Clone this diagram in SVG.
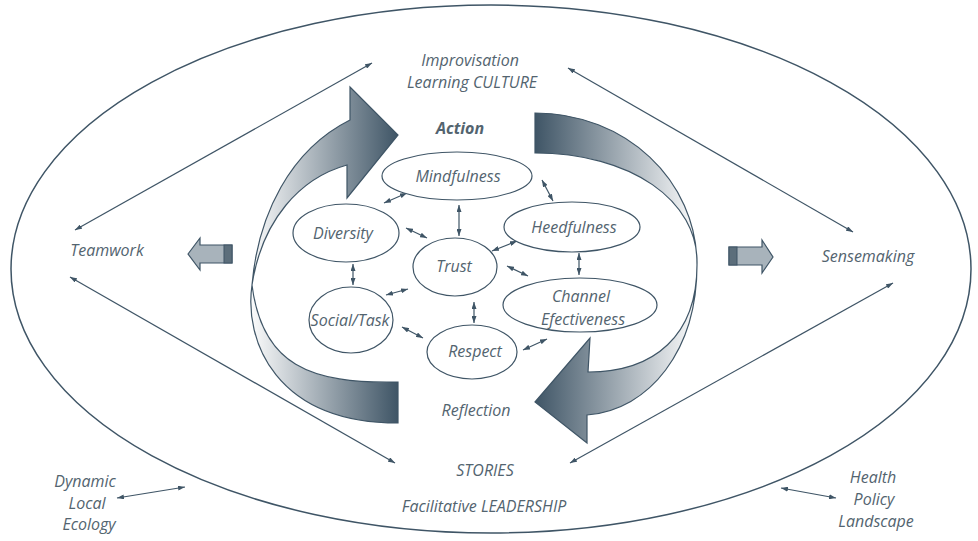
<svg xmlns="http://www.w3.org/2000/svg" width="978" height="541" viewBox="0 0 978 541">
<style>
text{font-family:"Open Sans","Liberation Sans",sans-serif;font-style:italic;font-size:16px;fill:#53646f;text-anchor:middle}
.b{font-weight:bold}
.node{fill:#fff;stroke:#3f5566;stroke-width:1.2}
.ln{stroke:#3f5566;stroke-width:1.2;fill:none;marker-start:url(#ah);marker-end:url(#ah)}
.blk{fill:#a8b3bb;stroke:#3f5566;stroke-width:1.2}
.band{fill:#5c6e7b}
</style>
<defs>
<marker id="ah" markerUnits="userSpaceOnUse" markerWidth="7" markerHeight="5" refX="7" refY="2.5" orient="auto-start-reverse">
<path d="M0,0 L7,2.5 L0,5 z" fill="#3f5566"/>
</marker>
<linearGradient id="gl" gradientUnits="userSpaceOnUse" x1="248" y1="0" x2="398" y2="0">
<stop offset="0" stop-color="#ffffff"/><stop offset="1" stop-color="#3f5566"/>
</linearGradient>
<linearGradient id="gr" gradientUnits="userSpaceOnUse" x1="535" y1="0" x2="700" y2="0">
<stop offset="0" stop-color="#3f5566"/><stop offset="1" stop-color="#ffffff"/>
</linearGradient>
</defs>
<rect width="978" height="541" fill="#fff"/>
<ellipse cx="491" cy="269" rx="480" ry="264" fill="none" stroke="#3f5566" stroke-width="1.5"/>

<g id="cycle-left">
<path d="M350,120 L350,87 L398,135 L347,198 L347,165 C300,178 262,220 252,285 C244,340 275,423 398,423 L398,382 C310,384 262,365 252,285 C258,215 290,150 350,120 Z" fill="url(#gl)" stroke="#3f5566" stroke-width="1.2" stroke-linejoin="miter"/>
</g>
<g id="cycle-right">
<path d="M535,113 C625,113 697,180 697,265 C697,350 650,410 587,415 L587,443 L535,402 L590,338 L588,372 C655,372 697,335 697,265 C699,200 630,153 535,153 Z" fill="url(#gr)" stroke="#3f5566" stroke-width="1.2"/>
</g>

<g id="block-left">
<polygon class="blk" points="188,254 200,238 200,245 232,245 232,263 200,263 200,270"/>
<rect class="band" x="224" y="245" width="8" height="18" stroke="#3f5566" stroke-width="1"/>
</g>
<g id="block-right">
<polygon class="blk" points="729,247 762,247 762,240 773,257 762,273 762,265 729,265"/>
<rect class="band" x="729" y="247" width="8" height="18" stroke="#3f5566" stroke-width="1"/>
</g>

<g id="connectors">
<line class="ln" x1="75" y1="230" x2="372" y2="63"/>
<line class="ln" x1="568" y1="68" x2="853" y2="232"/>
<line class="ln" x1="70" y1="277" x2="395" y2="463"/>
<line class="ln" x1="570" y1="463" x2="893" y2="283"/>
<line class="ln" x1="117" y1="498" x2="185" y2="487"/>
<line class="ln" x1="781" y1="488" x2="836" y2="498"/>
<line class="ln" x1="407" y1="193" x2="384" y2="203"/>
<line class="ln" x1="459" y1="205" x2="459" y2="236"/>
<line class="ln" x1="542" y1="180" x2="553" y2="201"/>
<line class="ln" x1="406" y1="228" x2="427" y2="238"/>
<line class="ln" x1="517" y1="241" x2="492" y2="251"/>
<line class="ln" x1="579" y1="253" x2="579" y2="275"/>
<line class="ln" x1="507" y1="266" x2="528" y2="276"/>
<line class="ln" x1="353" y1="264" x2="353" y2="285"/>
<line class="ln" x1="408" y1="289" x2="386" y2="295"/>
<line class="ln" x1="474" y1="302" x2="474" y2="323"/>
<line class="ln" x1="402" y1="327" x2="423" y2="338"/>
<line class="ln" x1="523" y1="350" x2="547" y2="339"/>
</g>

<g id="n-mindfulness"><ellipse class="node" cx="457" cy="176" rx="75" ry="24"/><text x="458" y="182">Mindfulness</text></g>
<g id="n-diversity"><ellipse class="node" cx="346" cy="233" rx="53" ry="29"/><text x="343" y="239">Diversity</text></g>
<g id="n-heedfulness"><ellipse class="node" cx="572" cy="227" rx="68" ry="25"/><text x="574" y="233">Heedfulness</text></g>
<g id="n-trust"><ellipse class="node" cx="455" cy="267" rx="42" ry="29"/><text x="454" y="272">Trust</text></g>
<g id="n-channel"><ellipse class="node" cx="580" cy="305" rx="77" ry="27"/><text x="581" y="302">Channel</text><text x="583" y="325">Efectiveness</text></g>
<g id="n-social"><ellipse class="node" cx="351" cy="320" rx="42" ry="33"/><text x="350" y="326">Social/Task</text></g>
<g id="n-respect"><ellipse class="node" cx="472" cy="352" rx="45" ry="27"/><text x="475" y="357">Respect</text></g>

<g id="labels">
<text x="470" y="66">Improvisation</text>
<text x="472" y="88">Learning CULTURE</text>
<text class="b" x="460" y="134">Action</text>
<text x="107" y="256">Teamwork</text>
<text x="868" y="262">Sensemaking</text>
<text x="476" y="416">Reflection</text>
<text x="485" y="476">STORIES</text>
<text x="484" y="512">Facilitative LEADERSHIP</text>
<text x="85" y="487">Dynamic</text>
<text x="87" y="509">Local</text>
<text x="89" y="530">Ecology</text>
<text x="873" y="483">Health</text>
<text x="874" y="505">Policy</text>
<text x="876" y="527">Landscape</text>
</g>
</svg>
